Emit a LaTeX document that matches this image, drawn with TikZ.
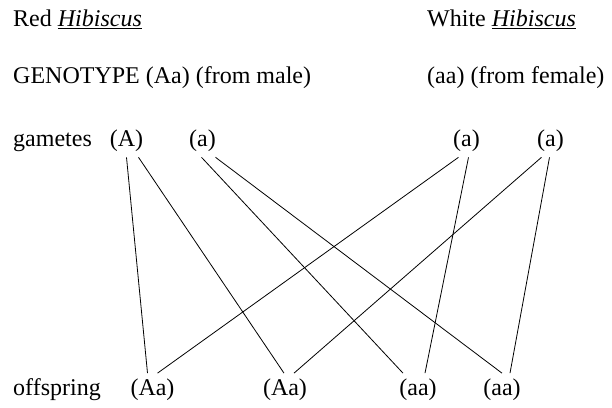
\documentclass[tikz,border=0pt]{standalone}
\usepackage{fontspec}
\setmainfont{Liberation Serif}
\usetikzlibrary{positioning}

\begin{document}
\begin{tikzpicture}[x=1pt,y=1pt,
    lbl/.style={inner sep=0pt, anchor=base west},
    gam/.style={inner sep=5pt, anchor=base},
    cross/.style={line width=.8pt}]
  \fontsize{24}{28}\selectfont
  \useasboundingbox (0,0) rectangle (612,407);
  % rows
  \coordinate (red) at (13,380);
  \coordinate (white) at (427,380);
  \coordinate (geno) at (13,323);
  \coordinate (geno2) at (427,323);
  \coordinate (gam) at (13,260);
  \coordinate (off) at (13,12);

  \node[lbl] (redtxt) at (red) {Red \underline{\textit{Hibiscus}}};
  \node[lbl] (whitetxt) at (white) {White \underline{\textit{Hibiscus}}};
  \node[lbl] (male) at (geno) {GENOTYPE (Aa) (from male)};
  \node[lbl] (female) at (geno2) {(aa) (from female)};
  \node[lbl] (gamtxt) at (gam) {gametes};
  \node[lbl] (offtxt) at (off) {offspring};

  % gametes
  \node[gam] (gA) at (126.5,260) {(A)};
  \node[gam] (ga) at (202.5,260) {(a)};
  \node[gam] (gb) at (466.5,260) {(a)};
  \node[gam] (gc) at (550.5,260) {(a)};

  % offspring
  \node[gam] (o1) at (152.5,12) {(Aa)};
  \node[gam] (o2) at (285,12) {(Aa)};
  \node[gam] (o3) at (418,12) {(aa)};
  \node[gam] (o4) at (502,12) {(aa)};

  \draw[cross] (gA.south) -- ([xshift=-5pt]o1.north);
  \draw[cross] ([xshift=12pt]gA.south) -- ([xshift=-1pt]o2.north);
  \draw[cross] ([xshift=-1pt]ga.south) -- ([xshift=-15pt]o3.north);
  \draw[cross] ([xshift=13pt]ga.south) -- (o4.north);
  \draw[cross] ([xshift=-8pt]gb.south) -- ([xshift=5pt]o1.north);
  \draw[cross] ([xshift=2pt]gb.south) -- ([xshift=7pt]o3.north);
  \draw[cross] ([xshift=-9pt]gc.south) -- ([xshift=9pt]o2.north);
  \draw[cross] ([xshift=-1pt]gc.south) -- ([xshift=8pt]o4.north);
\end{tikzpicture}
\end{document}
